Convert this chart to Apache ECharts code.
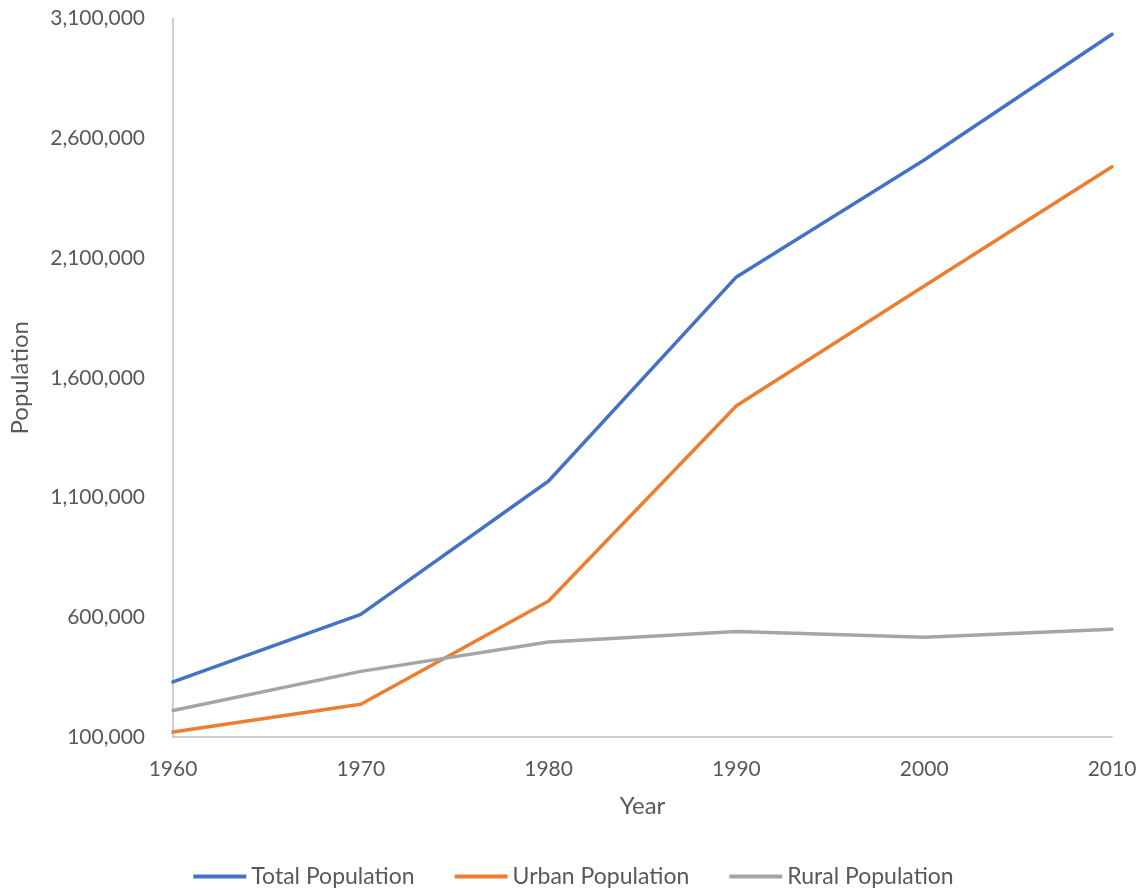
<!DOCTYPE html>
<html>
<head>
<meta charset="utf-8">
<script src="https://cdn.jsdelivr.net/npm/echarts@6/dist/echarts.min.js"></script>
<style>
  html, body { margin: 0; padding: 0; background: #ffffff; }
  #chart { width: 1147px; height: 893px; }
</style>
</head>
<body>
<div id="chart"></div>
<script>
// Population by decade
const years = ['1960', '1970', '1980', '1990', '2000', '2010'];
const totalPopulation = [330000, 612000, 1169000, 2021000, 2509000, 3034000];
const urbanPopulation = [121000, 237000, 668000, 1483000, 1983000, 2481000];
const ruralPopulation = [211000, 374000, 497000, 541000, 517000, 550000];

const FONT = 'Lato';
const TEXT_COLOR = '#595959';
const AXIS_COLOR = '#bfbfbf';

const chart = echarts.init(document.getElementById('chart'));

function lineSeries(name, data, color) {
  return {
    name: name,
    type: 'line',
    data: data,
    symbol: 'none',
    smooth: false,
    lineStyle: { color: color, width: 3.5, cap: 'round', join: 'round' },
    itemStyle: { color: color }
  };
}

chart.setOption({
  animation: false,
  textStyle: { fontFamily: FONT, color: TEXT_COLOR },
  grid: { left: 172, right: 35, top: 18.5, bottom: 156, containLabel: false },
  xAxis: {
    type: 'category',
    data: years,
    boundaryGap: false,
    name: 'Year',
    nameLocation: 'middle',
    nameGap: 57,
    nameTextStyle: { fontFamily: FONT, fontSize: 24, color: TEXT_COLOR },
    axisLine: { show: true, lineStyle: { color: AXIS_COLOR, width: 1.5 } },
    axisTick: { show: false },
    axisLabel: { fontFamily: FONT, fontSize: 21, color: TEXT_COLOR, margin: 22 },
    splitLine: { show: false }
  },
  yAxis: {
    type: 'value',
    min: 100000,
    max: 3100000,
    interval: 500000,
    name: 'Population',
    nameLocation: 'middle',
    nameGap: 141,
    nameRotate: 90,
    nameTextStyle: { fontFamily: FONT, fontSize: 24, color: TEXT_COLOR },
    axisLine: { show: true, lineStyle: { color: AXIS_COLOR, width: 1.5 } },
    axisTick: { show: false },
    axisLabel: {
      fontFamily: FONT, fontSize: 21, color: TEXT_COLOR, margin: 28,
      formatter: v => v.toLocaleString('en-US')
    },
    splitLine: { show: false }
  },
  legend: {
    bottom: 0,
    left: 'center',
    icon: 'rect',
    itemWidth: 53,
    itemHeight: 4,
    itemGap: 40,
    textStyle: { fontFamily: FONT, fontSize: 23, color: TEXT_COLOR, padding: [0, 0, 0, 0] },
    data: ['Total Population', 'Urban Population', 'Rural Population']
  },
  series: [
    lineSeries('Total Population', totalPopulation, '#4472C4'),
    lineSeries('Urban Population', urbanPopulation, '#ED7D31'),
    lineSeries('Rural Population', ruralPopulation, '#A5A5A5')
  ]
});
</script>
</body>
</html>
